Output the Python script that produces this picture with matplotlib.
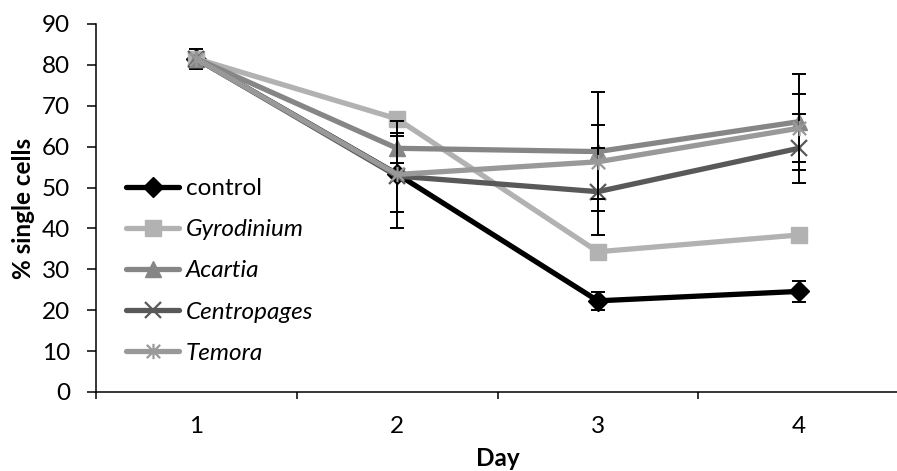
import numpy as np
import matplotlib
matplotlib.use("Agg")
import matplotlib.pyplot as plt
from matplotlib.path import Path

days = [1, 2, 3, 4]
day_labels = ["1", "2", "3", "4"]
series_names = ["control", "Gyrodinium", "Acartia", "Centropages", "Temora"]

control = [81.5, 53.3, 22.3, 24.6]
gyrodinium = [81.5, 66.8, 34.3, 38.4]
acartia = [81.5, 59.6, 58.8, 66.1]
centropages = [81.5, 52.8, 49.0, 59.6]
temora = [81.5, 53.2, 56.3, 64.5]

control_err = [2.5, 9.3, 2.2, 2.5]
gyrodinium_err = [0, 0, 0, 0]
acartia_err = [0, 3.7, 14.6, 11.7]
centropages_err = [0, 0, 10.6, 8.4]
temora_err = [0, 13.0, 9.0, 8.3]

yticks = [0, 10, 20, 30, 40, 50, 60, 70, 80, 90]

plt.rcParams['font.family'] = ['Lato', 'DejaVu Sans']
FS = 17.5

star = Path([(-1, -1), (1, 1), (-1, 1), (1, -1), (0, -1.15), (0, 1.15)],
            [Path.MOVETO, Path.LINETO, Path.MOVETO, Path.LINETO, Path.MOVETO, Path.LINETO])

styles = [
    dict(color="#000000", marker="D", ms=10, mfc="#000000", mec="#000000", mew=1),
    dict(color="#b2b2b2", marker="s", ms=11, mfc="#b2b2b2", mec="#b2b2b2", mew=1),
    dict(color="#868686", marker="^", ms=12, mfc="#868686", mec="#868686", mew=1),
    dict(color="#595959", marker="x", ms=11, mfc="none", mec="#595959", mew=1.6),
    dict(color="#999999", marker=star, ms=11, mfc="none", mec="#999999", mew=1.6),
]
data = [control, gyrodinium, acartia, centropages, temora]
errs = [control_err, gyrodinium_err, acartia_err, centropages_err, temora_err]

fig = plt.figure(figsize=(8.97, 4.71), dpi=100)
ax = fig.add_axes([96 / 897, (471 - 392) / 471, (899 - 96) / 897, (392 - 24) / 471])

handles = []
for i, (name, vals, er, st) in enumerate(zip(series_names, data, errs, styles)):
    z = 3 + 2 * i
    idx = [k for k, e in enumerate(er) if e > 0]
    if idx:
        ax.errorbar([days[k] for k in idx], [vals[k] for k in idx],
                    yerr=[er[k] for k in idx], fmt='none', ecolor='black',
                    elinewidth=1.4, capsize=5, capthick=1.4, zorder=z)
    h, = ax.plot(days, vals, lw=3.8, solid_capstyle='round', zorder=z + 1,
                 label=name, **st)
    handles.append(h)

ax.set_xlim(0.5, 4.5)
ax.set_ylim(0, 90)
ax.set_xticks(days)
ax.set_xticklabels(day_labels)
ax.set_xticks([0.5, 1.5, 2.5, 3.5, 4.5], minor=True)
ax.tick_params(axis='x', which='major', length=0, pad=17, labelsize=FS)
ax.tick_params(axis='x', which='minor', length=5, width=1.1, direction='out')
ax.set_yticks(yticks)
ax.tick_params(axis='y', which='major', length=6.5, width=1.1, pad=12, labelsize=FS)
for s in ['top', 'right']:
    ax.spines[s].set_visible(False)
for s in ['left', 'bottom']:
    ax.spines[s].set_linewidth(1.1)

ax.set_xlabel("Day", fontsize=FS, fontweight='bold')
ax.xaxis.set_label_coords(0.5, -0.15)
ax.set_ylabel("% single cells", fontsize=FS, fontweight='bold')
ax.yaxis.set_label_coords(-0.076, 0.5)

leg = ax.legend(handles=handles, loc='upper left', bbox_to_anchor=(30 / 803, (392 - 178) / 368),
                frameon=False, fontsize=FS, handlelength=2.2, handletextpad=0.25,
                labelspacing=0.83, numpoints=1, borderpad=0, borderaxespad=0)
for t in leg.get_texts()[1:]:
    t.set_fontstyle('italic')

fig.savefig("out.png", dpi=100)
